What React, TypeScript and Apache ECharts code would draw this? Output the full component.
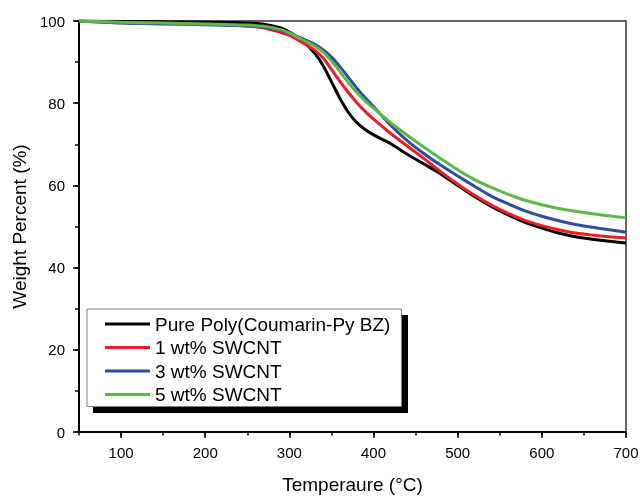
import React, { useEffect, useRef } from 'react';
import * as echarts from 'echarts';

const temps = [50, 100, 150, 200, 250, 270, 290, 300, 310, 320, 330, 340, 350, 360, 370, 380, 390, 400, 420, 440, 460, 480, 500, 520, 540, 560, 580, 600, 620, 640, 660, 680, 700];
const pure = [100, 99.9, 99.8, 99.7, 99.5, 99.2, 98.3, 97.3, 96.0, 94.3, 92.2, 89.2, 85.2, 81.2, 77.8, 75.3, 73.6, 72.3, 70.2, 67.6, 65.2, 62.8, 60.0, 57.3, 54.9, 52.8, 51.0, 49.6, 48.4, 47.5, 46.9, 46.4, 46.0];
const wt1 = [100, 99.6, 99.4, 99.2, 98.8, 98.3, 97.2, 96.5, 95.4, 94.2, 92.9, 91.0, 88.2, 85.3, 82.6, 80.2, 78.0, 76.1, 72.7, 69.6, 66.5, 63.3, 60.3, 57.6, 55.2, 53.2, 51.5, 50.2, 49.2, 48.4, 47.9, 47.5, 47.2];
const wt3 = [100, 99.5, 99.3, 99.1, 98.8, 98.5, 97.7, 97.0, 96.2, 95.3, 94.3, 93.0, 91.2, 88.9, 86.3, 83.7, 81.3, 79.2, 74.7, 70.9, 67.7, 64.9, 62.3, 59.8, 57.4, 55.5, 53.8, 52.5, 51.4, 50.5, 49.8, 49.2, 48.6];
const wt5 = [100, 99.7, 99.5, 99.3, 99.0, 98.7, 97.9, 97.1, 96.0, 95.0, 93.9, 92.4, 90.3, 87.7, 85.0, 82.6, 80.5, 78.8, 75.3, 72.2, 69.3, 66.5, 63.8, 61.4, 59.5, 57.8, 56.4, 55.3, 54.4, 53.7, 53.1, 52.6, 52.1];

const seriesNames = ['Pure Poly(Coumarin-Py BZ)', '1 wt% SWCNT', '3 wt% SWCNT', '5 wt% SWCNT'];
const seriesColors = ['#000000', '#ee1c24', '#2e4da0', '#5cb947'];
const seriesValues = [pure, wt1, wt3, wt5];

const xMajor = [100, 200, 300, 400, 500, 600, 700];

export default function App() {
  const ref = useRef<HTMLDivElement>(null);
  useEffect(() => {
    const chart = echarts.init(ref.current as HTMLDivElement, null, { renderer: 'svg' });
    const font = '"Liberation Sans", Arial, sans-serif';
    const tickStyle = { color: '#000', width: 1.5 };
    chart.setOption({
      animation: false,
      grid: {
        left: 79, right: 14, top: 21, bottom: 64, outerBoundsMode: 'none', containLabel: false,
        show: true, borderColor: '#333', borderWidth: 1.5, backgroundColor: 'transparent',
      },
      xAxis: [
        {
          type: 'value', min: 50, max: 700, interval: 50, position: 'bottom',
          axisLine: { show: true, onZero: false, lineStyle: { color: '#000', width: 2 } },
          axisTick: { show: true, length: 6, customValues: xMajor, lineStyle: tickStyle },
          axisLabel: { customValues: xMajor, fontSize: 15, color: '#000', margin: 13, fontFamily: font },
          splitLine: { show: false },
          name: 'Temperaure (°C)', nameLocation: 'middle', nameGap: 43,
          nameTextStyle: { fontSize: 19, color: '#000', fontFamily: font },
        },
        {
          type: 'value', min: 50, max: 700, interval: 50, position: 'bottom', offset: 0,
          axisLine: { show: false, onZero: false },
          axisTick: { show: true, length: 3.5, lineStyle: tickStyle },
          axisLabel: { show: false },
          splitLine: { show: false },
        },
      ],
      yAxis: [
        {
          type: 'value', min: 0, max: 100, interval: 20, position: 'left',
          axisLine: { show: true, onZero: false, lineStyle: { color: '#000', width: 2 } },
          axisTick: { show: true, length: 6, lineStyle: tickStyle },
          axisLabel: { fontSize: 15, color: '#000', margin: 14, fontFamily: font },
          splitLine: { show: false },
          name: 'Weight Percent (%)', nameLocation: 'middle', nameGap: 46, nameRotate: 90,
          nameTextStyle: { fontSize: 19, color: '#000', fontFamily: font },
        },
        {
          type: 'value', min: 0, max: 100, interval: 10, position: 'left', offset: 0,
          axisLine: { show: false, onZero: false },
          axisTick: { show: true, length: 4, lineStyle: tickStyle },
          axisLabel: { show: false },
          splitLine: { show: false },
        },
      ],
      legend: {
        orient: 'vertical', left: 87, top: 309,
        padding: [5, 11, 2, 18], itemGap: 3.5, itemWidth: 45, itemHeight: 3, icon: 'rect',
        backgroundColor: '#fff', borderColor: '#808080', borderWidth: 1,
        textStyle: { fontSize: 19, color: '#000', fontFamily: font, lineHeight: 20 },
        data: seriesNames,
      },
      graphic: [
        { type: 'rect', shape: { x: 93, y: 315, width: 315, height: 98 }, style: { fill: '#000' }, z: 0 },
      ],
      series: seriesNames.map((name, k) => ({
        type: 'line', name, xAxisIndex: 0, yAxisIndex: 0,
        data: temps.map((t, i) => [t, seriesValues[k][i]]),
        showSymbol: false, symbol: 'none', smooth: 0.3,
        lineStyle: { color: seriesColors[k], width: 3 },
        itemStyle: { color: seriesColors[k] },
      })),
    });
    return () => chart.dispose();
  }, []);
  return <div ref={ref} style={{ position: 'fixed', left: 0, top: 0, width: 640, height: 496 }} />;
}
